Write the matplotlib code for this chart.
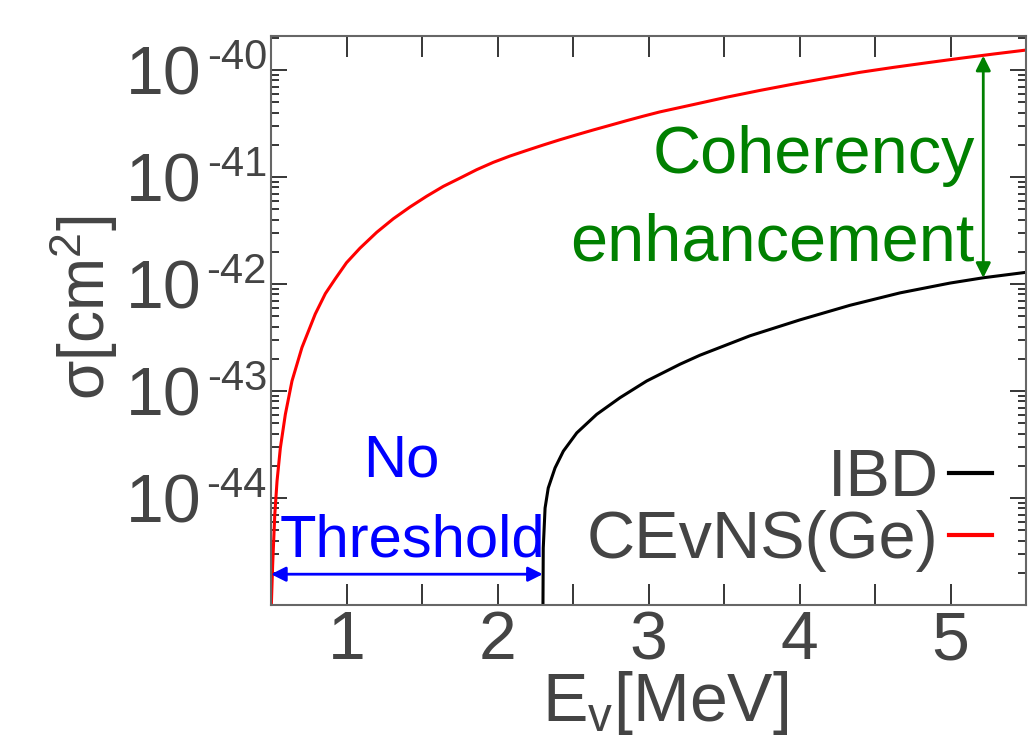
import numpy as np
import matplotlib
matplotlib.use('Agg')
import matplotlib.pyplot as plt
import matplotlib.transforms as mtransforms
from matplotlib.ticker import FixedLocator, FixedFormatter, LogLocator, NullFormatter

plt.rcParams['font.family'] = ['Liberation Sans', 'DejaVu Sans']
plt.rcParams['mathtext.fontset'] = 'custom'
plt.rcParams['mathtext.rm'] = 'Liberation Sans'
plt.rcParams['mathtext.it'] = 'Liberation Sans:italic'

# CEvNS on germanium (E in MeV, sigma in cm^2)
cevns_e = [0.500, 0.511, 0.525, 0.540, 0.562, 0.595, 0.639, 0.705, 0.793, 0.860,
           0.926, 1.000, 1.089, 1.200, 1.310, 1.421, 1.531, 1.641, 1.752, 1.862,
           1.972, 2.083, 2.193, 2.303, 2.414, 2.524, 2.634, 2.745, 2.855, 2.965,
           3.076, 3.297, 3.518, 3.738, 3.959, 4.180, 4.401, 4.621, 4.842, 5.063,
           5.284, 5.500]
cevns_sigma = [8.0e-46, 2.38e-45, 6.98e-45, 1.44e-44, 2.94e-44, 6.05e-44, 1.24e-43,
               2.55e-43, 5.24e-43, 8.13e-43, 1.12e-42, 1.58e-42, 2.16e-42, 3.04e-42,
               4.07e-42, 5.25e-42, 6.61e-42, 8.17e-42, 9.77e-42, 1.17e-41,
               1.37e-41, 1.57e-41, 1.77e-41, 1.99e-41, 2.23e-41, 2.48e-41, 2.75e-41,
               3.04e-41, 3.36e-41, 3.70e-41, 4.06e-41, 4.75e-41, 5.57e-41, 6.44e-41,
               7.38e-41, 8.39e-41, 9.51e-41, 1.057e-40, 1.167e-40, 1.285e-40,
               1.409e-40, 1.535e-40]

# inverse beta decay
ibd_e = [2.300, 2.303, 2.315, 2.336, 2.381, 2.436, 2.525, 2.657, 2.811, 2.988,
         3.209, 3.341, 3.672, 4.003, 4.334, 4.666, 4.997, 5.217, 5.505]
ibd_sigma = [5.0e-46, 3.40e-45, 8.05e-45, 1.24e-44, 1.91e-44, 2.74e-44, 4.06e-44,
             6.05e-44, 8.65e-44, 1.24e-43, 1.78e-43, 2.16e-43, 3.28e-43, 4.62e-43,
             6.32e-43, 8.26e-43, 1.02e-42, 1.143e-42, 1.288e-42]

ytick_vals = [1e-44, 1e-43, 1e-42, 1e-41, 1e-40]
ytick_base = ['10', '10', '10', '10', '10']
ytick_exp = ['-44', '-43', '-42', '-41', '-40']
xtick_vals = [1, 2, 3, 4, 5]
xtick_labels = ['1', '2', '3', '4', '5']

# arrows
threshold_e = (0.5, 2.30)
threshold_sigma = 1.94e-45
coherency_e = 5.217
coherency_sigma = (1.36e-40, 1.14e-42)

grey = '#444444'
fs = 49

fig = plt.figure(figsize=(10.31, 7.46), dpi=100)
ax = fig.add_axes([271 / 1031, 1 - 605 / 746, 755 / 1031, 569.5 / 746])

ax.plot(ibd_e, ibd_sigma, color='black', lw=2.2, label='IBD')
ax.plot(cevns_e, cevns_sigma, color='red', lw=2.2, label='CEvNS(Ge)')

ax.set_yscale('log')
ax.set_xlim(0.5, 5.5)
ax.set_ylim(1e-45, 2.1e-40)

ax.yaxis.set_major_locator(FixedLocator(ytick_vals))
ax.yaxis.set_major_formatter(FixedFormatter(ytick_base))
ax.yaxis.set_minor_locator(LogLocator(base=10, subs=np.arange(2, 10), numticks=20))
ax.yaxis.set_minor_formatter(NullFormatter())
ax.xaxis.set_major_locator(FixedLocator(xtick_vals))
ax.xaxis.set_major_formatter(FixedFormatter(xtick_labels))
ax.xaxis.set_minor_locator(FixedLocator([1.5, 2.5, 3.5, 4.5]))

ax.tick_params(axis='both', which='both', direction='in', top=True, right=True,
               colors='black', labelcolor=grey, labelsize=fs)
ax.tick_params(axis='x', which='both', length=15, width=1.1, pad=3)
ax.tick_params(axis='y', which='major', length=11.5, width=1.1, pad=50)
ax.tick_params(axis='y', which='minor', length=6, width=1.1)
for sp in ax.spines.values():
    sp.set_color('#666666')
    sp.set_linewidth(1.5)

# exponent drawn smaller, on its own, next to the "10"
exp_trans = mtransforms.blended_transform_factory(ax.transAxes, ax.transData) + \
    mtransforms.ScaledTranslation(0, 1 / 100, fig.dpi_scale_trans)
for v, e in zip(ytick_vals, ytick_exp):
    ax.text(-4 / 755, v, e, transform=exp_trans, ha='right', va='baseline',
            fontsize=30, color=grey, clip_on=False)

ax.set_xlabel(r'E$_\mathregular{v}$[MeV]', fontsize=fs, color=grey)
ax.set_ylabel(r'$\mathregular{\sigma}$[cm$^\mathregular{2}$]', fontsize=46, color=grey)
ax.xaxis.set_label_coords(0.522, -0.113)
ax.yaxis.set_label_coords(-0.20, 0.522)

# no threshold arrow + text
ax.annotate('', xy=(threshold_e[0], threshold_sigma), xytext=(threshold_e[1], threshold_sigma),
            arrowprops=dict(arrowstyle='<|-|>', color='blue', lw=2, mutation_scale=22,
                            shrinkA=0, shrinkB=0))
ax.text(1.361, 1.60e-44, 'No', color='blue', fontsize=43, ha='center', va='baseline')
ax.text(1.434, 2.85e-45, 'Threshold', color='blue', fontsize=43, ha='center', va='baseline')

# coherency arrow + text
ax.annotate('', xy=(coherency_e, coherency_sigma[0]), xytext=(coherency_e, coherency_sigma[1]),
            arrowprops=dict(arrowstyle='<|-|>', color='green', lw=2, mutation_scale=22,
                            shrinkA=0, shrinkB=0))
ax.text(5.162, 1.08e-41, 'Coherency', color='green', fontsize=48, ha='right', va='baseline')
ax.text(5.162, 1.65e-42, 'enhancement', color='green', fontsize=48, ha='right', va='baseline')

leg = ax.legend(loc='lower right', bbox_to_anchor=(0.955, 0.058), frameon=False,
                markerfirst=False, fontsize=48, labelcolor=grey, handlelength=0.65,
                handletextpad=0.15, labelspacing=0.0, borderpad=0, borderaxespad=0)
for ln in leg.get_lines():
    ln.set_linewidth(3)

fig.savefig('out.png', dpi=100)
